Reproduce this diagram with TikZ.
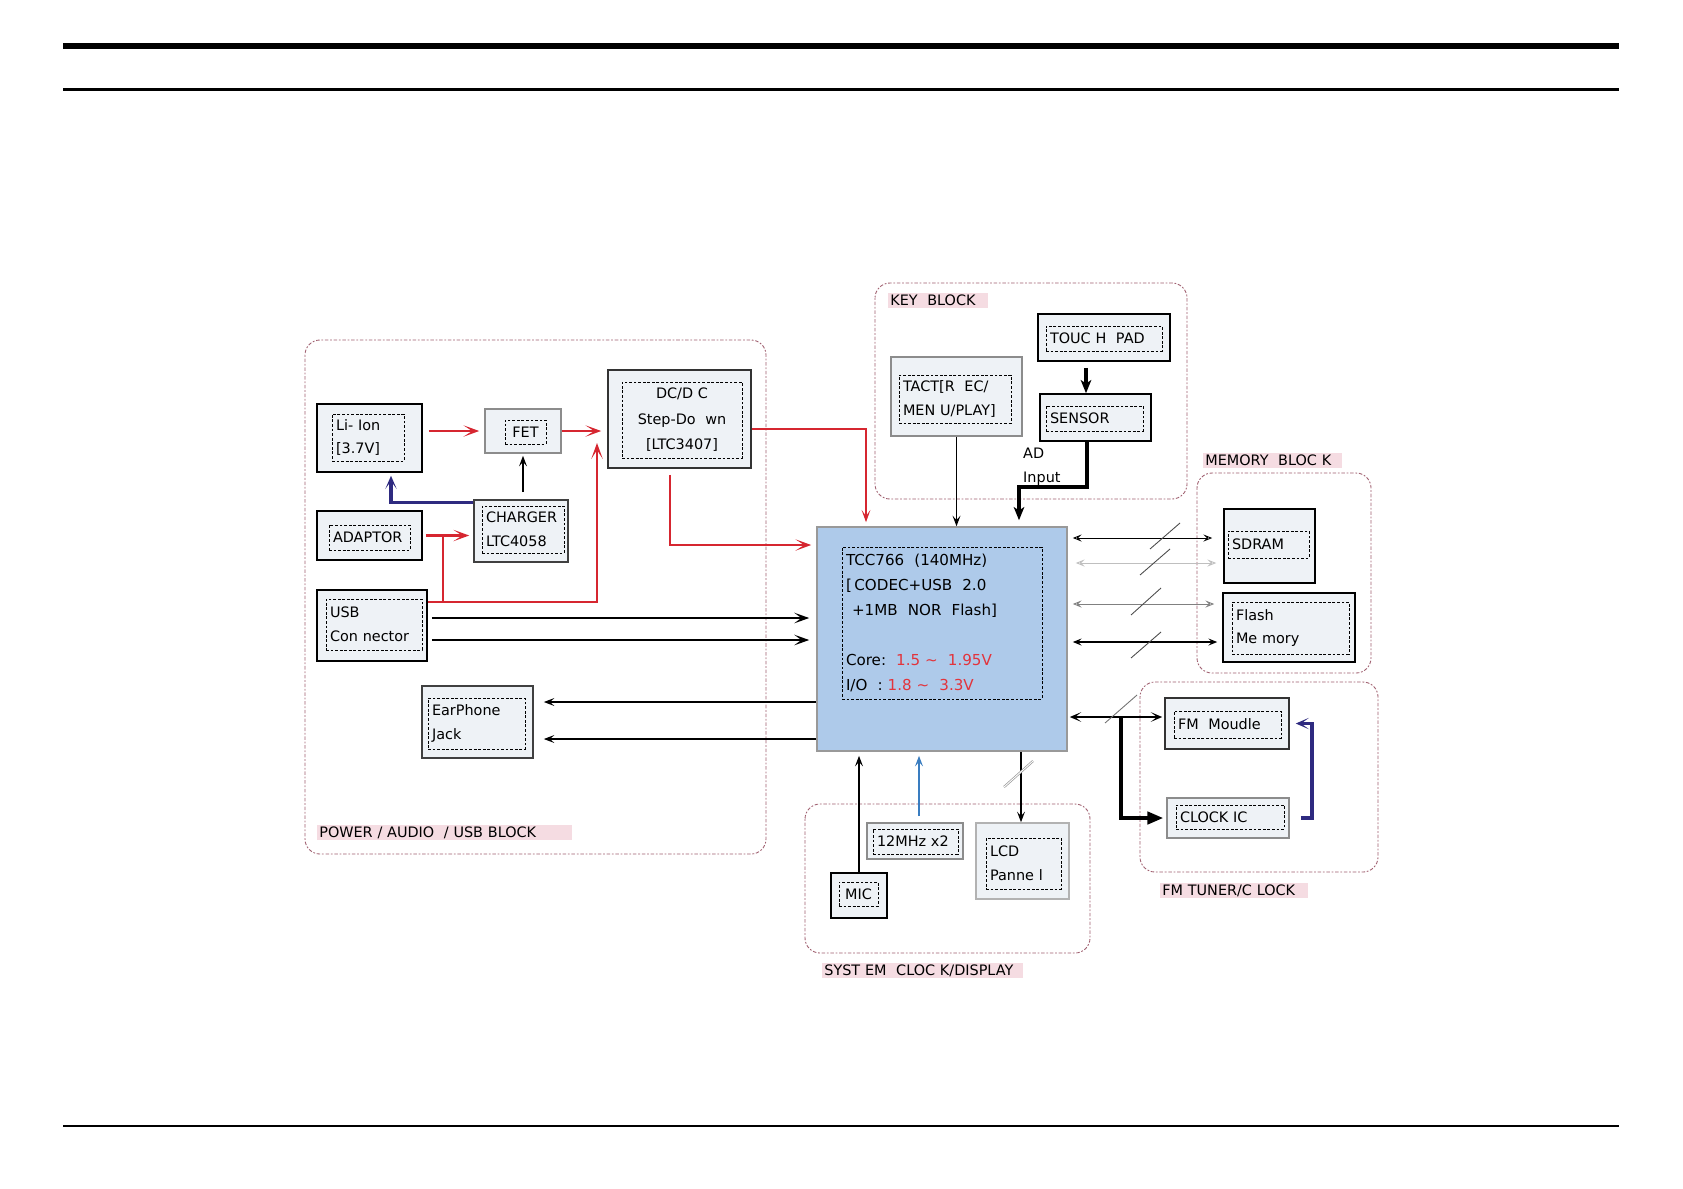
\documentclass[tikz,border=0pt]{standalone}
\usepackage{fontspec}
\setmainfont{DejaVu Sans}
\usepackage{xcolor}
\usetikzlibrary{arrows.meta,fit}

\definecolor{pwrred}{RGB}{214,38,48}
\definecolor{txtred}{RGB}{226,52,60}
\definecolor{navyln}{RGB}{46,42,128}
\definecolor{clkblue}{RGB}{58,125,192}
\definecolor{cpufill}{RGB}{174,202,234}
\definecolor{boxfill}{RGB}{238,242,246}
\definecolor{frameclr}{RGB}{160,96,112}
\definecolor{lblpink}{RGB}{245,220,226}

\begin{document}
\begin{tikzpicture}[x=0.02cm,y=-0.02cm,>=Stealth,
  every node/.style={font=\fontsize{8.2}{13.5}\selectfont},
  blk/.style={draw,line width=0.9pt,fill=boxfill,inner sep=0pt},
  blkg/.style={blk,draw=black!45},
  inbox/.style={draw,line width=0.5pt,dash pattern=on 1.6pt off 1pt,inner xsep=0.08cm,inner ysep=0pt,align=left},
  grp/.style={draw=frameclr,line width=0.5pt,dash pattern=on 1pt off 1pt on 2pt off 1pt,rounded corners=0.3cm},
  grplbl/.style={fill=lblpink,anchor=west,inner xsep=0.04cm,inner ysep=0pt,minimum height=0.3cm,align=left},
  pwr/.style={->,>={Stealth[length=9pt,width=6.5pt,inset=5pt]},draw=pwrred,line width=1.5pt},
  pwrln/.style={draw=pwrred,line width=1.5pt},
  pwrthin/.style={->,>={Stealth[length=7pt,width=5pt,inset=3.5pt]},draw=pwrred,line width=0.8pt},
  navyarr/.style={->,>={Stealth[length=7.5pt,width=6.5pt,inset=4.5pt]},draw=navyln,line width=1.9pt},
  bus/.style={->,>={Stealth[length=8.5pt,width=6pt,inset=4pt]},line width=1.3pt},
  sig/.style={->,>={Stealth[length=6pt,width=4.5pt,inset=2.5pt]},line width=0.8pt},
  thk/.style={->,>={Stealth[length=7.5pt,width=6pt,inset=2pt]},line width=2pt},
  clkln/.style={->,>={Stealth[length=6pt,width=4.5pt,inset=2.5pt]},draw=clkblue,line width=1pt},
  mbus/.style={<->,>={Stealth[open,length=5pt,width=4pt,inset=2pt]},line width=0.5pt},
  slashln/.style={draw=black!70,line width=0.5pt}]

  \fill[white] (0,0) rectangle (1683,1188);
  \useasboundingbox (0,0) rectangle (1683,1188);

  % page rules
  \draw[line width=3.3pt] (63,46) -- (1619,46);
  \draw[line width=1.4pt] (63,89.5) -- (1619,89.5);
  \draw[line width=0.8pt] (63,1126) -- (1619,1126);

  % blocks
  \draw[grp] (305,340) rectangle (766,854);
  \node[grplbl,text width=5.02cm] (pwrlbl) at (317,832.5) {POWER / AUDIO\ \ / USB BLOCK};
  \draw[grp] (875,283) rectangle (1187,499);
  \node[grplbl,text width=1.92cm] (keylbl) at (888,300) {KEY\ \ BLOCK};
  \draw[grp] (1197,473) rectangle (1371,673);
  \node[grplbl,text width=2.70cm] (memlbl) at (1203,460) {MEMORY\ \ BLOC K};
  \draw[grp] (1140,682) rectangle (1378,872);
  \node[grplbl,text width=2.88cm] (fmlbl) at (1160,890.5) {FM TUNER/C LOCK};
  \draw[grp] (805,804) rectangle (1090,953);
  \node[grplbl,text width=3.94cm] (syslbl) at (822,970.5) {SYST EM\ \ CLOC K/DISPLAY};

  % power / audio / usb
  \node[blk,fit={(317,404) (422,472)}] (liion) {};
  \node[inbox,minimum height=0.94cm,text width=1.28cm] (liion-t) at (368,437.5) {Li- Ion\\{[3.7V]}};
  \node[blkg,fit={(485,409) (561,453)}] (fet) {};
  \node[inbox,minimum height=0.48cm,text width=0.66cm,align=center] (fet-t) at (525.5,432) {FET};
  \node[blk,draw=black!80,fit={(608,370) (751,468)}] (dcdc) {};
  \node[inbox,minimum height=1.52cm,text width=2.24cm,align=center,font=\fontsize{8.2}{14.5}\selectfont] (dcdc-t) at (682,420) {DC/D C\\Step-Do\ \ wn\\{[LTC3407]}};
  \node[blk,fit={(317,511) (422,560)}] (adaptor) {};
  \node[inbox,minimum height=0.5cm,text width=1.46cm] (adaptor-t) at (369.5,537.5) {ADAPTOR};
  \node[blk,draw=black!75,fit={(474,500) (568,562)}] (charger) {};
  \node[inbox,minimum height=0.94cm,text width=1.48cm] (charger-t) at (523,529.5) {CHARGER\\LTC4058};
  \node[blk,fit={(317,590) (427,661)}] (usb) {};
  \node[inbox,minimum height=1.02cm,text width=1.76cm] (usb-t) at (374,624.5) {USB\\Con nector};
  \node[blk,draw=black!75,fit={(422,686) (533,758)}] (earph) {};
  \node[inbox,minimum height=1.02cm,text width=1.78cm] (earph-t) at (476.5,723.5) {EarPhone\\Jack};

  % cpu
  \node[blk,draw=black!40,fill=cpufill,fit={(817,527) (1067,751)}] (cpu) {};
  \node[inbox,minimum height=3.04cm,text width=3.84cm,font=\fontsize{8.6}{14.4}\selectfont] (cpu-t) at (942,623)
    {TCC766\ \ (140MHz)\\{[}\,CODEC+USB\ \ 2.0\\\hspace*{0.4em}+1MB\ \ NOR\ \ Flash]\\[14pt]
     Core:\ \ {\color{txtred}1.5\ \textasciitilde\ \ 1.95V}\\I/O\ \ :\ {\color{txtred}1.8\ \textasciitilde\ \ 3.3V}};

  % key block
  \node[blkg,fit={(891,357) (1022,436)}] (tact) {};
  \node[inbox,minimum height=0.96cm,text width=2.08cm] (tact-t) at (955,399) {TACT[R\ \ EC/\\MEN U/PLAY]};
  \node[blk,fit={(1038,314) (1170,361)}] (touch) {};
  \node[inbox,minimum height=0.5cm,text width=2.16cm] (touch-t) at (1104,338.5) {TOUC H\ \ PAD};
  \node[blk,fit={(1040,394) (1151,441)}] (sensor) {};
  \node[inbox,minimum height=0.5cm,text width=1.78cm] (sensor-t) at (1094.5,418.5) {SENSOR};
  \node[anchor=west,align=left] (adin) at (1017,467) {AD\\Input};

  % memory block
  \node[blk,fit={(1224,509) (1315,583)}] (sdram) {};
  \node[inbox,minimum height=0.54cm,text width=1.46cm] (sdram-t) at (1268.5,544.5) {SDRAM};
  \node[blk,fit={(1223,593) (1355,662)}] (flash) {};
  \node[inbox,minimum height=1.04cm,text width=2.18cm] (flash-t) at (1290.5,628) {Flash\\Me mory};

  % fm tuner / clock
  \node[blk,draw=black!80,fit={(1165,698) (1289,749)}] (fm) {};
  \node[inbox,minimum height=0.54cm,text width=1.98cm] (fm-t) at (1227.5,724.5) {FM\ \ Moudle};
  \node[blkg,fit={(1167,798) (1289,838)}] (clk) {};
  \node[inbox,minimum height=0.48cm,text width=2.0cm] (clk-t) at (1230,817) {CLOCK IC};

  % system clock / display
  \node[blkg,fit={(867,823) (963,859)}] (xtal) {};
  \node[inbox,minimum height=0.5cm,text width=1.54cm] (xtal-t) at (915.5,841.5) {12MHz\ x2};
  \node[blkg,draw=black!30,fit={(976,823) (1069,899)}] (lcd) {};
  \node[inbox,minimum height=1.02cm,text width=1.34cm] (lcd-t) at (1023.5,863.5) {LCD\\Panne l};
  \node[blk,fit={(831,873) (887,918)}] (mic) {};
  \node[inbox,minimum height=0.48cm,text width=0.62cm,align=center] (mic-t) at (858.5,894) {MIC};

  % power paths
  \draw[pwr,shorten <=0.12cm,shorten >=0.1cm] (liion.east |- fet) -- (fet);
  \draw[pwr,shorten >=0.12cm] (fet) -- (fet -| dcdc.west);
  \draw[pwr,shorten <=0.06cm,shorten >=0.08cm] (adaptor) -- (adaptor -| charger.west);
  \coordinate (usbj) at (443,602);
  \coordinate (dcin) at (597,443);
  \draw[pwrln] (usbj |- adaptor) -- (usbj);
  \draw[pwr] (usb.east |- usbj) -| (dcin);
  \draw[navyarr,shorten >=0.06cm] ([yshift=-0.06cm]charger.north west) -| ([xshift=0.43cm]liion.south);
  \draw[sig,line width=1pt,shorten <=0.14cm,shorten >=0.04cm] (fet |- charger.north) -- (fet.south);
  \draw[pwrthin,shorten >=0.08cm] (dcdc.east |- 0,429) -| (866,0 |- cpu.north);
  \draw[pwr,shorten <=0.12cm,shorten >=0.1cm] (670,0 |- dcdc.south) |- (cpu.west |- 0,545);

  % usb / audio
  \draw[bus,shorten <=0.08cm,shorten >=0.14cm] (usb.east |- 0,618) -- (cpu.west |- 0,618);
  \draw[bus,shorten <=0.08cm,shorten >=0.14cm] (usb.east |- 0,640) -- (cpu.west |- 0,640);
  \draw[sig,line width=1pt,shorten >=0.2cm] (cpu.west |- 0,702) -- (earph.east |- 0,702);
  \draw[sig,line width=1pt,shorten >=0.2cm] (cpu.west |- 0,739) -- (earph.east |- 0,739);

  % keys
  \draw[sig] (tact) -- (tact |- cpu.north);
  \draw[thk,shorten <=0.12cm] (1086,0 |- touch.south) -- (1086,0 |- sensor.north);
  \draw[thk,shorten >=0.12cm] (1087,0 |- sensor.south) |- (1019,487) -- (1019,0 |- cpu.north);

  % memory buses
  \draw[mbus,shorten <=0.1cm,shorten >=0.22cm] (cpu.east |- 0,538) -- (sdram.west |- 0,538);
  \draw[mbus,draw=black!25,shorten <=0.16cm,shorten >=0.14cm] (cpu.east |- 0,563) -- (sdram.west |- 0,563);
  \draw[mbus,draw=black!50,shorten <=0.1cm,shorten >=0.16cm] (cpu.east |- 0,604) -- (flash.west |- 0,604);
  \draw[mbus,line width=0.8pt,shorten <=0.1cm,shorten >=0.1cm] (cpu.east |- 0,642) -- (flash.west |- 0,642);
  \draw[slashln] (1150,549) -- (1180,523);
  \draw[slashln] (1140,575) -- (1170,549);
  \draw[slashln] (1131,615) -- (1161,588);
  \draw[slashln] (1131,658) -- (1161,632);

  % fm / clock
  \draw[<->,>={Stealth[length=6.5pt,width=5.5pt,inset=3.5pt]},line width=1.3pt,shorten <=0.04cm,shorten >=0.04cm]
    (cpu.east |- 0,717) -- (fm.west |- 0,717);
  \draw[slashln,black!55] (1105,723) -- (1137,695);
  \coordinate (fmj) at (1121,717);
  \draw[thk,>={Triangle[length=9pt,width=7pt]},shorten >=0.06cm] (fmj) |- (clk.west);
  \draw[navyarr] ([xshift=0.22cm]clk.east) -| (1312,0 |- fm.east) -- ([xshift=0.12cm]fm.east);

  % system clock / display
  \draw[sig,line width=1.1pt,shorten >=0.08cm] (mic) -- (mic |- cpu.south);
  \draw[clkln,shorten <=0.12cm,shorten >=0.08cm] (919,0 |- xtal.north) -- (919,0 |- cpu.south);
  \draw[sig] (1021,0 |- cpu.south) -- (1021,0 |- lcd.north);
  \draw[draw=black!40,double=white,double distance=0.5pt,line width=0.4pt] (1004,787) -- (1033,761);
\end{tikzpicture}
\end{document}
